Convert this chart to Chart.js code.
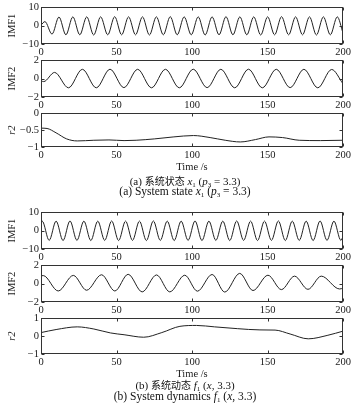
<!DOCTYPE html>
<html><head><meta charset="utf-8">
<script src="https://cdn.jsdelivr.net/npm/chart.js@4/dist/chart.umd.min.js"></script>
<style>
html,body{margin:0;padding:0;background:#fff;}
body{width:359px;height:416px;position:relative;overflow:hidden;}
canvas.pc{position:absolute;left:0;}
.cap{position:absolute;left:0;width:370px;text-align:center;font-family:"Liberation Serif","Times New Roman",serif;font-size:11px;color:#111;white-space:nowrap;line-height:12px;}
.cap.en{font-size:11.5px;}
.cap i{font-style:italic}
.cap sub{font-size:7px;vertical-align:-2px;line-height:0;}
.cn{font-family:"Noto Sans CJK SC",sans-serif;font-size:10px;}
</style></head><body>
<canvas id="a1" class="pc"></canvas>
<canvas id="a2" class="pc"></canvas>
<canvas id="a3" class="pc"></canvas>
<canvas id="b1" class="pc"></canvas>
<canvas id="b2" class="pc"></canvas>
<canvas id="b3" class="pc"></canvas>
<div class="cap" style="top:175px">(a) <span class="cn">系统状态</span> <i>x</i><sub>1</sub> (<i>p</i><sub>3</sub> = 3.3)</div>
<div class="cap en" style="top:185px">(a) System state <i>x</i><sub>1</sub> (<i>p</i><sub>3</sub> = 3.3)</div>
<div class="cap" style="top:379px">(b) <span class="cn">系统动态</span> <i>f</i><sub>1</sub> (<i>x</i>, 3.3)</div>
<div class="cap en" style="top:390px">(b) System dynamics <i>f</i><sub>1</sub> (<i>x</i>, 3.3)</div>
<script>
// ---- data ----
const xTickValues = [0, 50, 100, 150, 200];
const yTicksIMF1 = [-10, 0, 10];
const yTicksIMF2 = [-2, 0, 2];
const yTicksR2a = [-1, -0.5, 0];
const yTicksR2b = [-1, 0, 1];
const xTitle = 'Time /s';

// (a) system state x1 : IMF1 extrema
const aIMF1_t = [0, 2.6, 7.3, 11.9, 16.5, 21.1, 25.7, 30.3, 34.9, 39.5, 44.2, 48.8, 53.4, 58.0, 62.6, 67.2, 71.8, 76.4, 81.0, 85.6, 90.2, 94.8, 99.5, 104.1, 108.7, 113.3, 117.9, 122.5, 127.1, 131.7, 136.3, 140.9, 145.5, 150.1, 154.7, 159.3, 164.0, 168.6, 173.2, 177.8, 182.4, 187.0, 191.6, 196.2, 200];
const aIMF1_v = [0.3, 2.2, -4.6, 4.7, -5.0, 4.8, -5.0, 4.8, -5.1, 4.8, -5.0, 4.9, -5.0, 4.8, -5.0, 4.8, -5.1, 4.8, -5.0, 4.9, -5.0, 4.8, -5.0, 4.8, -5.1, 4.8, -5.0, 4.9, -5.0, 4.8, -5.0, 4.8, -5.1, 4.8, -5.0, 4.9, -5.0, 4.8, -5.0, 4.8, -5.1, 4.8, -5.0, 4.8, -4.0];
// (a) IMF2 extrema
const aIMF2_t = [0, 1.8, 9.0, 18.2, 27.4, 36.6, 45.7, 54.9, 64.0, 73.2, 82.4, 91.6, 100.8, 110.0, 119.1, 128.3, 137.4, 146.6, 155.8, 165.0, 174.1, 183.3, 192.5, 200];
const aIMF2_v = [-0.25, -0.32, 0.68, -1.0, 1.02, -1.0, 1.03, -0.98, 1.02, -1.0, 1.02, -1.0, 1.03, -0.98, 1.02, -1.0, 1.03, -1.0, 1.02, -0.98, 1.02, -1.0, 1.0, -0.55];
// (a) residual r2
const aR2_t = [0, 4, 10, 17, 24, 35, 45, 55, 63, 75, 88, 101, 112, 122, 132, 142, 151, 160, 171, 185, 200];
const aR2_v = [-0.44, -0.45, -0.58, -0.76, -0.82, -0.8, -0.79, -0.81, -0.8, -0.76, -0.7, -0.66, -0.72, -0.8, -0.85, -0.78, -0.7, -0.72, -0.8, -0.81, -0.8];

// (b) system dynamics f1 : IMF1 extrema
const bIMF1_t = [0, 0.8, 5.4, 10.0, 14.6, 19.2, 23.8, 28.4, 33.0, 37.6, 42.2, 46.8, 51.4, 56.0, 60.6, 65.2, 69.8, 74.4, 79.0, 83.6, 88.2, 92.8, 97.4, 102.0, 106.6, 111.2, 115.8, 120.4, 125.0, 129.6, 134.2, 138.8, 143.4, 148.0, 152.6, 157.2, 161.8, 166.4, 171.0, 175.6, 180.2, 184.8, 189.4, 194.0, 198.6, 200];
const bIMF1_v = [4.5, 5.2, -5.3, 5.2, -5.4, 5.3, -5.3, 5.2, -5.4, 5.2, -5.3, 5.3, -5.4, 5.2, -5.3, 5.2, -5.4, 5.3, -5.3, 5.2, -5.4, 5.2, -5.3, 5.3, -5.4, 5.2, -5.3, 5.2, -5.4, 5.3, -5.3, 5.2, -5.4, 5.2, -5.3, 5.3, -5.4, 5.2, -5.3, 5.2, -5.4, 5.3, -5.3, 5.2, -5.3, -3.2];
// (b) IMF2 extrema
const bIMF2_t = [0, 1.5, 11.4, 21.4, 30.2, 40.1, 48.9, 57.7, 67.0, 76.5, 85.3, 95.2, 103.6, 113.3, 121.7, 131.6, 140.4, 150.3, 159.2, 167.9, 176.8, 185.6, 197.7, 200];
const bIMF2_v = [0.85, 0.88, -0.8, 0.9, -0.72, 0.97, -0.8, 1.02, -0.9, 0.95, -0.9, 0.92, -0.82, 1.0, -0.92, 1.12, -0.75, 0.92, -0.65, 0.82, -0.62, 0.82, -0.58, -0.5];
// (b) residual r2
const bR2_t = [0, 10, 24, 35, 46, 55, 68, 80, 92, 103, 115, 130, 145, 155, 165, 177, 190, 200];
const bR2_v = [0.2, 0.37, 0.52, 0.4, 0.18, 0.08, -0.06, 0.2, 0.55, 0.6, 0.52, 0.42, 0.35, 0.34, 0.12, -0.15, 0.05, 0.28];

// ---- drawing ----
const SERIF = '"Liberation Serif", "Times New Roman", serif';
const INK = '#1a1a1a';
const fmt = v => (v < 0 ? '\u2212' + Math.abs(v) : String(v));

const frame = {
  id: 'frame',
  afterDatasetsDraw(chart) {
    const {ctx, chartArea: a, scales: {x, y}} = chart;
    ctx.save();
    ctx.strokeStyle = '#333';
    ctx.lineWidth = 1;
    const L = Math.round(a.left) + 0.5, R = Math.round(a.right) - 0.5;
    const T = Math.round(a.top) + 0.5, B = Math.round(a.bottom) - 0.5;
    ctx.strokeRect(L, T, R - L, B - T);
    ctx.beginPath();
    x.ticks.forEach(t => {
      const p = Math.round(x.getPixelForValue(t.value)) + 0.5;
      ctx.moveTo(p, B); ctx.lineTo(p, B - 3);
      ctx.moveTo(p, T); ctx.lineTo(p, T + 3);
    });
    y.ticks.forEach(t => {
      const p = Math.round(y.getPixelForValue(t.value)) + 0.5;
      ctx.moveTo(L, p); ctx.lineTo(L + 3, p);
      ctx.moveTo(R, p); ctx.lineTo(R - 3, p);
    });
    ctx.stroke();
    ctx.restore();
  }
};

const PADTOP = 6;
function panel(id, top, bottom, ts, vs, ymin, ymax, yticks, ylabel, italic, withTitle) {
  const xh = withTitle ? 27 : 16;
  const cv = document.getElementById(id);
  const h = (bottom - top) + PADTOP + xh;
  cv.width = 359; cv.height = h;
  cv.style.top = (top - PADTOP) + 'px';
  cv.style.width = '359px'; cv.style.height = h + 'px';
  new Chart(cv, {
    type: 'line',
    data: {
      datasets: [{
        data: ts.map((t, i) => ({x: t, y: vs[i]})),
        borderColor: '#222', borderWidth: 1, pointRadius: 0, fill: false,
        cubicInterpolationMode: 'monotone'
      }]
    },
    options: {
      responsive: false, animation: false, devicePixelRatio: 1,
      layout: {autoPadding: false, padding: {top: PADTOP, left: 0, right: 16, bottom: 0}},
      plugins: {legend: {display: false}, tooltip: {enabled: false}},
      scales: {
        x: {
          type: 'linear', min: 0, max: 200,
          afterBuildTicks: s => { s.ticks = xTickValues.map(v => ({value: v})); },
          afterFit: s => { s.height = xh; },
          grid: {display: false, drawTicks: false}, border: {display: false},
          ticks: {color: INK, font: {family: SERIF, size: 10.5}, padding: 2, maxRotation: 0, autoSkip: false},
          title: {display: withTitle, text: xTitle, color: INK, font: {family: SERIF, size: 10.5}, padding: {top: 0, bottom: 0}}
        },
        y: {
          min: ymin, max: ymax,
          afterBuildTicks: s => { s.ticks = yticks.map(v => ({value: v})); },
          afterFit: s => { s.width = 41; },
          grid: {display: false, drawTicks: false}, border: {display: false},
          ticks: {color: INK, font: {family: SERIF, size: 10.5}, padding: 2, callback: fmt},
          title: {display: true, text: ylabel, color: INK, font: {family: SERIF, size: 10.5, style: italic ? 'italic' : 'normal'}, padding: {top: 6, bottom: 0}}
        }
      }
    },
    plugins: [frame]
  });
}

panel('a1', 5, 44, aIMF1_t, aIMF1_v, -10, 10, yTicksIMF1, 'IMF1', false, false);
panel('a2', 58, 97, aIMF2_t, aIMF2_v, -2, 2, yTicksIMF2, 'IMF2', false, false);
panel('a3', 111, 147, aR2_t, aR2_v, -1, 0, yTicksR2a, 'r2', true, true);
panel('b1', 210, 249, bIMF1_t, bIMF1_v, -10, 10, yTicksIMF1, 'IMF1', false, false);
panel('b2', 263, 302, bIMF2_t, bIMF2_v, -2, 2, yTicksIMF2, 'IMF2', false, false);
panel('b3', 316, 354, bR2_t, bR2_v, -1, 1, yTicksR2b, 'r2', true, true);
</script>
</body></html>
